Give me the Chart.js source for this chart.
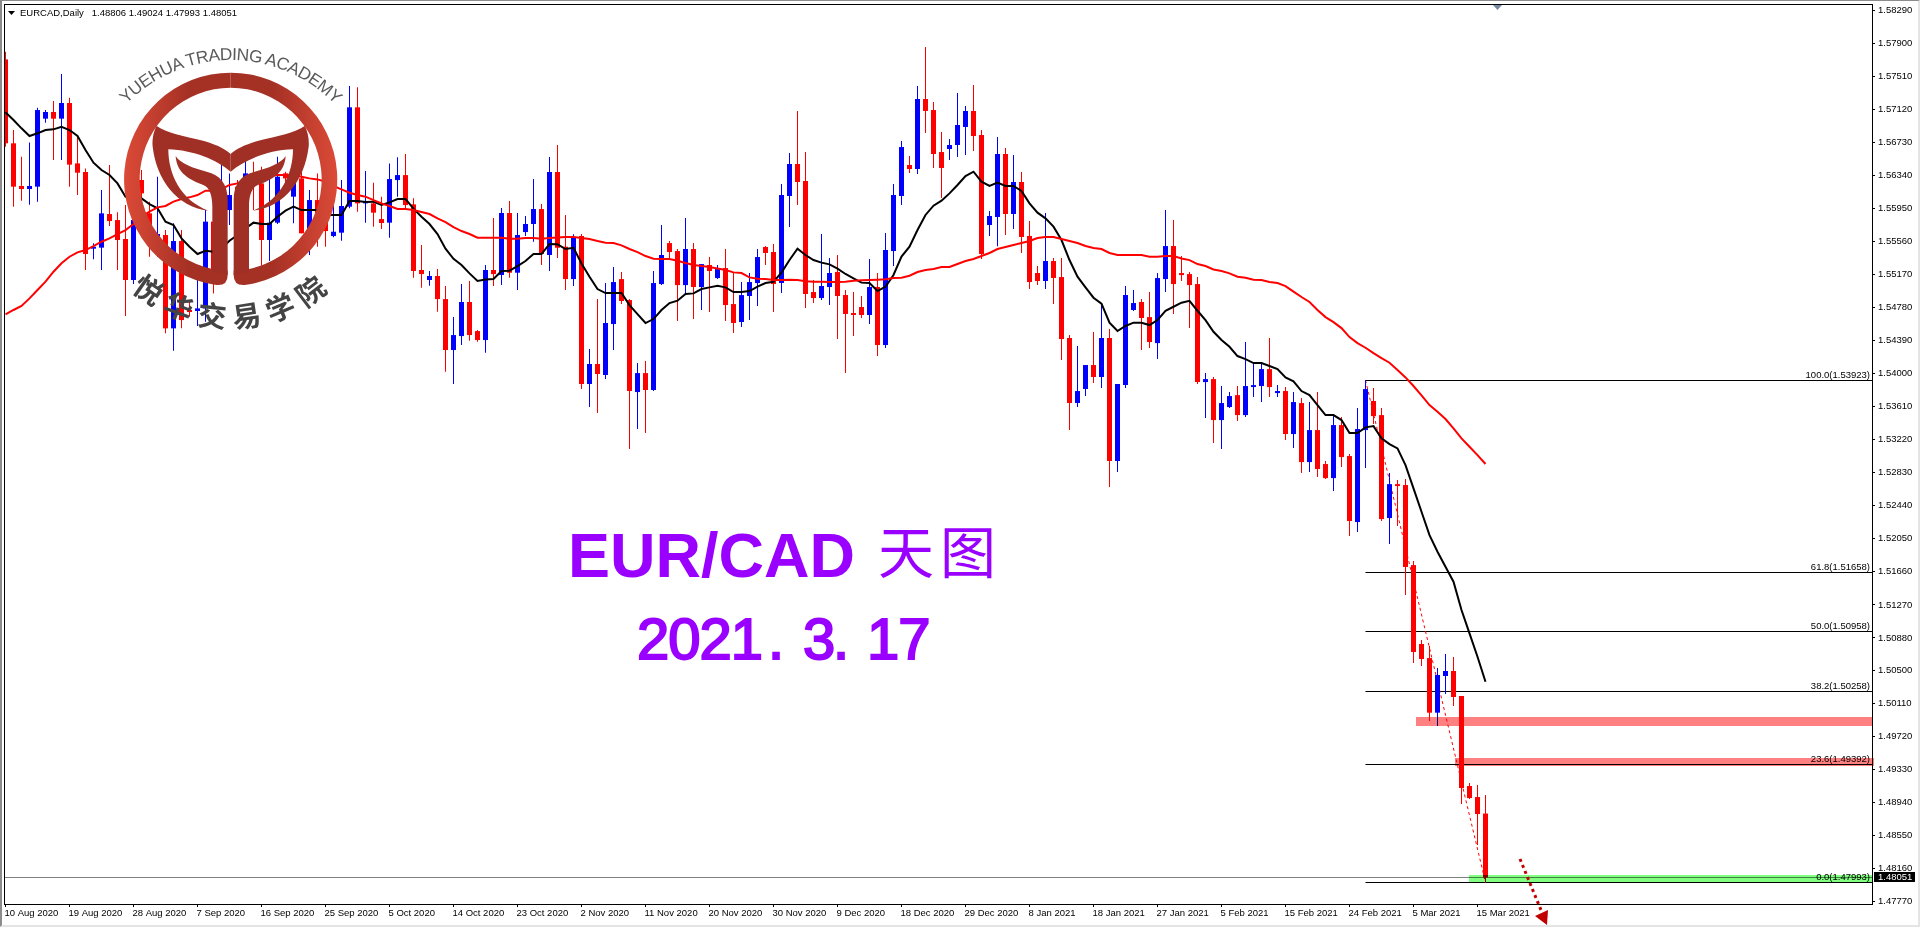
<!DOCTYPE html>
<html>
<head>
<meta charset="utf-8">
<title>EURCAD Daily</title>
<script src="https://cdn.jsdelivr.net/npm/chart.js@4"></script>
<style>
    html, body { margin: 0; padding: 0; background: #fff; overflow: hidden; }
    #wrap { position: relative; width: 1920px; height: 927px; overflow: hidden; }
    canvas { position: absolute; left: 0; top: 0; }
    #frame { position: absolute; left: 0; top: 0; right: 0; bottom: 0; box-sizing: border-box;
        border-left: 2px solid #8c8c8c; border-top: 1px solid #8c8c8c;
        border-right: 2px solid #e4e4e4; border-bottom: 2px solid #e4e4e4; }
    svg { position: absolute; left: 0; top: 0; }
    .header { position: absolute; left: 20px; top: 7px; font: 9.5px "Liberation Sans", sans-serif; color: #000; white-space: pre; }
    .title { position: absolute; color: #9900ff; white-space: pre; }
    .date { position: absolute; top: 605px; color: #9900ff; white-space: pre; font: 58px 'Liberation Sans'; letter-spacing: -1px; -webkit-text-stroke: 2px #9900ff; }
</style>
</head>
<body>
<div id="wrap">
    <canvas class="candle-chart" width="1920" height="927"></canvas>
    <div id="frame"></div>
    <div class="header">EURCAD,Daily   1.48806 1.49024 1.47993 1.48051</div>
    <div class="title" style="left:568px;top:519px;font:bold 63px 'Liberation Sans'">EUR/CAD</div>
    <div class="title" style="left:878px;top:508px;font:400 56px 'Noto Sans CJK SC';letter-spacing:6px">天图</div>
    <div class="date" style="left:637px">2021</div>
    <div class="date" style="left:768px">.</div>
    <div class="date" style="left:803px">3</div>
    <div class="date" style="left:833px">.</div>
    <div class="date" style="left:867px">17</div>
    <svg width="1920" height="927">
        <defs>
            <linearGradient id="ringFill" gradientUnits="userSpaceOnUse" x1="372" y1="0" x2="1012" y2="0">
                <stop offset="0" stop-color="#dc4a37"/>
                <stop offset="0.3" stop-color="#a53125"/>
                <stop offset="0.7" stop-color="#a53125"/>
                <stop offset="1" stop-color="#dc4a37"/>
            </linearGradient>
            <path id="leafHalf" d="M470,378 C500,400 560,410 600,420 C640,430 675,445 692,462 L692,515 C650,480 580,450 505,448 C505,520 540,600 625,632 C530,620 470,540 458,440 C456,420 460,395 470,378 Z"/>
            <path id="stemHalf" d="M683,825 L683,600 C683,550 660,525 620,515 C580,505 540,490 527,468 C530,520 570,540 610,555 C630,562 637,590 637,620 L637,815 Z"/>
            <path id="ringHalf" d="M692,218 A320,320 0 0 0 645,854.5 Q683,860 683,825 L683,812 L637,807 A275,275 0 0 1 692,263 Z"/>
            <path id="topArc" d="M340,359 A436,436 0 0 1 1044,359"/>
            <path id="bottomArc" d="M292,733 A445,445 0 0 0 1092,733"/>
        </defs>
        <!-- little menu arrow and the shift marker of the terminal -->
        <polygon points="8,11 15,11 11.5,15" fill="#000"/>
        <polygon points="1493,5 1502,5 1497.5,10" fill="#7488a0"/>

        <!-- logo, drawn in the 3x space it was measured in -->
        <g transform="scale(0.33333)">
            <use href="#ringHalf" fill="url(#ringFill)"/>
            <use href="#ringHalf" fill="url(#ringFill)" transform="translate(1384,0) scale(-1,1)"/>
            <use href="#leafHalf" fill="#a03025"/>
            <use href="#leafHalf" fill="#a03025" transform="translate(1384,0) scale(-1,1)"/>
            <use href="#stemHalf" fill="#a03025"/>
            <use href="#stemHalf" fill="#a03025" transform="translate(1384,0) scale(-1,1)"/>
            <text font-family="Liberation Sans" font-size="52" letter-spacing="-1.5" fill="#5a5a5a" text-anchor="middle">
                <textPath href="#topArc" startOffset="50%">YUEHUA TRADING ACADEMY</textPath>
            </text>
            <text font-family="Noto Sans CJK SC" font-weight="700" font-size="86" letter-spacing="26" fill="#444" text-anchor="middle">
                <textPath href="#bottomArc" startOffset="51%">悦华交易学院</textPath>
            </text>
        </g>

        <!-- dotted arrow next to the last candle -->
        <line x1="1520" y1="859" x2="1541" y2="910" stroke="#c00000" stroke-width="3" stroke-dasharray="3 3.5"/>
        <polygon points="1535,916 1548,910 1547,925" fill="#c00000"/>
    </svg>
</div>

<script>
// Candles, oldest first
const opens = [
    1.57711, 1.56720, 1.56216, 1.56180, 1.56208, 1.57011, 1.57090, 1.57011, 1.57196, 1.56483,
    1.56381, 1.55476, 1.55488, 1.55885, 1.55814, 1.55590, 1.55106, 1.56287, 1.55893, 1.55617,
    1.55637, 1.54535, 1.55566, 1.54752, 1.54740, 1.54771, 1.55795, 1.55421, 1.55932, 1.56208,
    1.56011, 1.56365, 1.56247, 1.55578, 1.55783, 1.56365, 1.56090, 1.56306, 1.55676, 1.56050,
    1.55893, 1.55625, 1.55665, 1.55972, 1.57145, 1.56011, 1.56011, 1.55826, 1.55783, 1.56286,
    1.56345, 1.55999, 1.55224, 1.55106, 1.55153, 1.54881, 1.54279, 1.54444, 1.54846, 1.54503,
    1.54397, 1.55224, 1.55165, 1.55897, 1.55192, 1.55672, 1.55767, 1.55944, 1.55401, 1.56381,
    1.55499, 1.55117, 1.55625, 1.53878, 1.54114, 1.53984, 1.54586, 1.55117, 1.54869, 1.53783,
    1.54007, 1.53807, 1.55058, 1.55542, 1.55448, 1.55046, 1.55472, 1.55023, 1.55283, 1.55129,
    1.55247, 1.54822, 1.54610, 1.54917, 1.55070, 1.55496, 1.55437, 1.55071, 1.56098, 1.56476,
    1.56275, 1.54964, 1.54893, 1.55023, 1.55200, 1.54929, 1.54716, 1.54787, 1.54693, 1.55023,
    1.54338, 1.55448, 1.56098, 1.56464, 1.56417, 1.57243, 1.57113, 1.56617, 1.56653, 1.56700,
    1.56913, 1.57102, 1.56818, 1.55755, 1.55850, 1.56594, 1.55885, 1.56263, 1.55626, 1.55189,
    1.55094, 1.55330, 1.55141, 1.54421, 1.53654, 1.53819, 1.54102, 1.53961, 1.54421, 1.52969,
    1.53866, 1.54752, 1.54846, 1.54668, 1.54361, 1.55117, 1.55507, 1.55188, 1.55176, 1.55058,
    1.53901, 1.53936, 1.53452, 1.53606, 1.53747, 1.53511, 1.53842, 1.53854, 1.54054, 1.53771,
    1.53795, 1.53287, 1.53653, 1.52956, 1.53334, 1.52933, 1.52767, 1.53393, 1.53027, 1.52248,
    1.53334, 1.53677, 1.53511, 1.52295, 1.52696, 1.52685, 1.51740, 1.50808, 1.50642, 1.49997,
    1.50430, 1.50489, 1.50194, 1.49131, 1.49001, 1.48806
];
const highs = [
    1.57802, 1.56877, 1.56562, 1.56731, 1.57141, 1.57113, 1.57219, 1.57538, 1.57259, 1.56798,
    1.56424, 1.55539, 1.56168, 1.56464, 1.55905, 1.55991, 1.56444, 1.56405, 1.56031, 1.56326,
    1.55696, 1.55775, 1.55696, 1.54870, 1.55106, 1.55932, 1.55893, 1.56483, 1.56365, 1.56287,
    1.56523, 1.56503, 1.56444, 1.56365, 1.56562, 1.56385, 1.56483, 1.56405, 1.56168, 1.56365,
    1.56090, 1.56287, 1.56287, 1.57397, 1.57381, 1.56393, 1.56255, 1.56090, 1.56483, 1.56554,
    1.56593, 1.56070, 1.55519, 1.55212, 1.55235, 1.55035, 1.54669, 1.55058, 1.55094, 1.54515,
    1.55283, 1.55838, 1.55956, 1.56038, 1.55897, 1.55861, 1.56298, 1.56003, 1.56558, 1.56700,
    1.55873, 1.55645, 1.55649, 1.54291, 1.54881, 1.55070, 1.55259, 1.55200, 1.54881, 1.54126,
    1.54149, 1.55212, 1.55755, 1.55566, 1.55472, 1.55838, 1.55542, 1.55294, 1.55377, 1.55283,
    1.55472, 1.55200, 1.55082, 1.55188, 1.55472, 1.55507, 1.55531, 1.56240, 1.56606, 1.57102,
    1.56617, 1.55106, 1.55649, 1.55366, 1.55401, 1.54988, 1.54964, 1.54917, 1.55354, 1.55189,
    1.55661, 1.56240, 1.56747, 1.56570, 1.57397, 1.57857, 1.57208, 1.56854, 1.56771, 1.57314,
    1.57161, 1.57409, 1.56877, 1.55921, 1.56795, 1.56665, 1.56582, 1.56381, 1.55803, 1.55271,
    1.55897, 1.55366, 1.55366, 1.54457, 1.54327, 1.54102, 1.54492, 1.54811, 1.54527, 1.53878,
    1.55035, 1.54988, 1.54881, 1.54964, 1.55188, 1.55932, 1.55814, 1.55389, 1.55200, 1.55141,
    1.54007, 1.53960, 1.53854, 1.53783, 1.53854, 1.54373, 1.54125, 1.54125, 1.54420, 1.53865,
    1.53842, 1.53783, 1.53712, 1.53665, 1.53783, 1.52968, 1.53511, 1.53488, 1.53051, 1.53594,
    1.53923, 1.53830, 1.53594, 1.52826, 1.52744, 1.52756, 1.51788, 1.50855, 1.50784, 1.50524,
    1.50690, 1.50654, 1.50194, 1.49166, 1.49143, 1.49024
];
const lows = [
    1.56680, 1.55972, 1.56043, 1.55995, 1.56031, 1.56964, 1.56523, 1.56523, 1.56208, 1.56109,
    1.55224, 1.55350, 1.55224, 1.55743, 1.55224, 1.54681, 1.55059, 1.56070, 1.55381, 1.55381,
    1.54476, 1.54271, 1.54535, 1.54673, 1.54563, 1.54614, 1.54948, 1.55303, 1.55755, 1.55972,
    1.55893, 1.55932, 1.55275, 1.55330, 1.55767, 1.56208, 1.55775, 1.55657, 1.55401, 1.55499,
    1.55499, 1.55610, 1.55570, 1.55952, 1.55913, 1.55783, 1.55736, 1.55708, 1.55605, 1.56090,
    1.55952, 1.55133, 1.55015, 1.55039, 1.54732, 1.54023, 1.53878, 1.54338, 1.54389, 1.54377,
    1.54248, 1.55035, 1.55047, 1.55133, 1.54987, 1.55625, 1.55558, 1.55283, 1.55212, 1.55365,
    1.54987, 1.55035, 1.53818, 1.53606, 1.53535, 1.53937, 1.54279, 1.54822, 1.53110, 1.53346,
    1.53299, 1.53795, 1.55046, 1.55350, 1.54621, 1.54928, 1.54645, 1.54751, 1.54728, 1.55117,
    1.54621, 1.54480, 1.54551, 1.54633, 1.54799, 1.55283, 1.54728, 1.54953, 1.55732, 1.55992,
    1.54775, 1.54834, 1.54870, 1.54811, 1.54409, 1.54008, 1.54445, 1.54657, 1.54586, 1.54209,
    1.54303, 1.55271, 1.55992, 1.56369, 1.56358, 1.56842, 1.56429, 1.56074, 1.56523, 1.56558,
    1.56582, 1.56629, 1.55354, 1.55626, 1.55504, 1.55637, 1.55708, 1.55425, 1.55000, 1.55047,
    1.55000, 1.54823, 1.54161, 1.53335, 1.53606, 1.53736, 1.53890, 1.53831, 1.52662, 1.52839,
    1.53831, 1.54740, 1.54279, 1.54302, 1.54172, 1.54964, 1.54704, 1.55093, 1.54539, 1.53877,
    1.53476, 1.53181, 1.53110, 1.53594, 1.53440, 1.53488, 1.53724, 1.53665, 1.53724, 1.53724,
    1.53216, 1.53122, 1.52826, 1.52838, 1.52779, 1.52755, 1.52614, 1.52897, 1.52082, 1.52130,
    1.52885, 1.53405, 1.52260, 1.51988, 1.52201, 1.51386, 1.50583, 1.50548, 1.49898, 1.49839,
    1.50217, 1.50076, 1.48918, 1.48977, 1.48434, 1.47993
];
const closes = [
    1.56720, 1.56208, 1.56180, 1.56216, 1.57113, 1.57090, 1.57011, 1.57196, 1.56468, 1.56373,
    1.55413, 1.55499, 1.55893, 1.55802, 1.55578, 1.55106, 1.55814, 1.56129, 1.55578, 1.55649,
    1.54535, 1.55566, 1.54633, 1.54728, 1.54771, 1.55795, 1.55066, 1.56208, 1.56109, 1.56090,
    1.56365, 1.56306, 1.55578, 1.55783, 1.56326, 1.56306, 1.56405, 1.55657, 1.56050, 1.55716,
    1.55684, 1.55676, 1.55980, 1.57145, 1.56011, 1.56031, 1.55901, 1.55779, 1.56298, 1.56345,
    1.55991, 1.55212, 1.55176, 1.55153, 1.54881, 1.54279, 1.54456, 1.54846, 1.54456, 1.54397,
    1.55224, 1.55176, 1.55897, 1.55192, 1.55637, 1.55767, 1.55944, 1.55413, 1.56381, 1.55487,
    1.55117, 1.55602, 1.53878, 1.54114, 1.53996, 1.54598, 1.55082, 1.54858, 1.53795, 1.54007,
    1.53807, 1.55070, 1.55401, 1.55436, 1.55046, 1.55472, 1.55023, 1.55294, 1.55212, 1.55235,
    1.54810, 1.54598, 1.54928, 1.55082, 1.55377, 1.55425, 1.55059, 1.56110, 1.56476, 1.56263,
    1.54941, 1.54893, 1.55035, 1.55189, 1.54917, 1.54705, 1.54693, 1.54693, 1.55023, 1.54338,
    1.55460, 1.56110, 1.56676, 1.56417, 1.57243, 1.57102, 1.56594, 1.56429, 1.56700, 1.56936,
    1.57102, 1.56806, 1.55413, 1.55862, 1.56594, 1.55885, 1.56263, 1.55614, 1.55082, 1.55094,
    1.55330, 1.55130, 1.54409, 1.53654, 1.53795, 1.54102, 1.53961, 1.54421, 1.52969, 1.53878,
    1.54929, 1.54834, 1.54657, 1.54373, 1.55129, 1.55507, 1.55058, 1.55164, 1.55046, 1.53901,
    1.53936, 1.53452, 1.53653, 1.53736, 1.53511, 1.53854, 1.53865, 1.54054, 1.53842, 1.53795,
    1.53287, 1.53665, 1.52956, 1.53334, 1.52874, 1.52767, 1.53393, 1.53015, 1.52260, 1.53346,
    1.53818, 1.53499, 1.52283, 1.52696, 1.52673, 1.51717, 1.50713, 1.50631, 1.49997, 1.50442,
    1.50489, 1.50182, 1.49107, 1.48989, 1.48800, 1.48051
];

// Moving averages, one value per candle
const blackMA = [
    1.57086, 1.56995, 1.56897, 1.56806, 1.56838, 1.56877, 1.56885, 1.56916, 1.56877, 1.56806,
    1.56641, 1.56491, 1.56405, 1.56346, 1.56247, 1.56090, 1.56050, 1.56070, 1.56003, 1.55952,
    1.55795, 1.55755, 1.55598, 1.55499, 1.55413, 1.55452, 1.55440, 1.55480, 1.55570, 1.55637,
    1.55716, 1.55783, 1.55767, 1.55767, 1.55854, 1.55924, 1.55972, 1.55932, 1.55932, 1.55932,
    1.55873, 1.55873, 1.55873, 1.56039, 1.56039, 1.56027, 1.56031, 1.55991, 1.56023, 1.56062,
    1.56062, 1.55948, 1.55853, 1.55767, 1.55649, 1.55476, 1.55357, 1.55283, 1.55184, 1.55094,
    1.55113, 1.55117, 1.55212, 1.55216, 1.55271, 1.55330, 1.55413, 1.55413, 1.55531, 1.55527,
    1.55472, 1.55487, 1.55302, 1.55145, 1.54999, 1.54952, 1.54952, 1.54952, 1.54810, 1.54704,
    1.54598, 1.54645, 1.54751, 1.54834, 1.54862, 1.54940, 1.54948, 1.54999, 1.55019, 1.55039,
    1.55019, 1.54964, 1.54964, 1.54976, 1.55027, 1.55070, 1.55086, 1.55193, 1.55342, 1.55476,
    1.55401, 1.55342, 1.55311, 1.55291, 1.55240, 1.55177, 1.55126, 1.55075, 1.55071, 1.54976,
    1.55027, 1.55165, 1.55382, 1.55500, 1.55696, 1.55874, 1.55984, 1.56043, 1.56129, 1.56228,
    1.56334, 1.56385, 1.56267, 1.56216, 1.56255, 1.56216, 1.56216, 1.56157, 1.56011, 1.55901,
    1.55834, 1.55736, 1.55578, 1.55342, 1.55145, 1.55019, 1.54897, 1.54827, 1.54602, 1.54504,
    1.54563, 1.54602, 1.54601, 1.54574, 1.54633, 1.54743, 1.54790, 1.54838, 1.54861, 1.54743,
    1.54633, 1.54495, 1.54397, 1.54318, 1.54208, 1.54172, 1.54125, 1.54125, 1.54090, 1.54054,
    1.53956, 1.53909, 1.53795, 1.53747, 1.53629, 1.53511, 1.53511, 1.53452, 1.53299, 1.53299,
    1.53366, 1.53381, 1.53236, 1.53169, 1.53118, 1.52921, 1.52645, 1.52370, 1.52094, 1.51897,
    1.51720, 1.51544, 1.51209, 1.50934, 1.50658, 1.50363
];
const redMA = [
    1.54700, 1.54752, 1.54799, 1.54889, 1.54988, 1.55086, 1.55204, 1.55303, 1.55381, 1.55432,
    1.55460, 1.55507, 1.55558, 1.55598, 1.55649, 1.55696, 1.55767, 1.55854, 1.55913, 1.55964,
    1.55980, 1.56031, 1.56062, 1.56082, 1.56109, 1.56161, 1.56161, 1.56176, 1.56228, 1.56247,
    1.56298, 1.56306, 1.56326, 1.56334, 1.56346, 1.56346, 1.56346, 1.56326, 1.56306, 1.56294,
    1.56267, 1.56216, 1.56176, 1.56137, 1.56109, 1.56090, 1.56050, 1.56011, 1.55980, 1.55944,
    1.55944, 1.55932, 1.55909, 1.55885, 1.55834, 1.55790, 1.55731, 1.55684, 1.55649, 1.55605,
    1.55605, 1.55605, 1.55605, 1.55594, 1.55594, 1.55601, 1.55601, 1.55594, 1.55601, 1.55609,
    1.55613, 1.55613, 1.55601, 1.55590, 1.55566, 1.55546, 1.55542, 1.55515, 1.55472, 1.55436,
    1.55389, 1.55357, 1.55354, 1.55354, 1.55334, 1.55306, 1.55283, 1.55271, 1.55259, 1.55243,
    1.55224, 1.55196, 1.55188, 1.55137, 1.55121, 1.55117, 1.55106, 1.55106, 1.55110, 1.55106,
    1.55090, 1.55086, 1.55086, 1.55082, 1.55082, 1.55086, 1.55098, 1.55102, 1.55106, 1.55110,
    1.55114, 1.55130, 1.55134, 1.55157, 1.55200, 1.55224, 1.55236, 1.55260, 1.55260, 1.55295,
    1.55330, 1.55354, 1.55389, 1.55425, 1.55472, 1.55496, 1.55519, 1.55543, 1.55567, 1.55602,
    1.55614, 1.55614, 1.55590, 1.55567, 1.55543, 1.55507, 1.55484, 1.55472, 1.55425, 1.55401,
    1.55401, 1.55401, 1.55400, 1.55381, 1.55381, 1.55389, 1.55389, 1.55361, 1.55341, 1.55294,
    1.55271, 1.55231, 1.55212, 1.55184, 1.55145, 1.55133, 1.55109, 1.55105, 1.55082, 1.55070,
    1.55034, 1.54968, 1.54905, 1.54846, 1.54751, 1.54668, 1.54609, 1.54538, 1.54432, 1.54361,
    1.54306, 1.54243, 1.54184, 1.54129, 1.54043, 1.53956, 1.53854, 1.53743, 1.53629, 1.53551,
    1.53464, 1.53354, 1.53236, 1.53137, 1.53039, 1.52933
];

// Axis labels
const xTickLabels = [
    '10 Aug 2020', '19 Aug 2020', '28 Aug 2020', '7 Sep 2020', '16 Sep 2020', '25 Sep 2020',
    '5 Oct 2020', '14 Oct 2020', '23 Oct 2020', '2 Nov 2020', '11 Nov 2020', '20 Nov 2020',
    '30 Nov 2020', '9 Dec 2020', '18 Dec 2020', '29 Dec 2020', '8 Jan 2021', '18 Jan 2021',
    '27 Jan 2021', '5 Feb 2021', '15 Feb 2021', '24 Feb 2021', '5 Mar 2021', '15 Mar 2021'
];
const barsPerLabel = 8;
const yTicks = [
    1.58290, 1.57900, 1.57510, 1.57120, 1.56730, 1.56340, 1.55950, 1.55560, 1.55170, 1.54780,
    1.54390, 1.54000, 1.53610, 1.53220, 1.52830, 1.52440, 1.52050, 1.51660, 1.51270, 1.50880,
    1.50500, 1.50110, 1.49720, 1.49330, 1.48940, 1.48550, 1.48160, 1.47770
];

// Fibonacci tool, drawn from bar 170 rightwards
const fibStartBar = 170;
const fibEndBar = 185;
const fibLevels = [1.53923, 1.51658, 1.50958, 1.50258, 1.49392, 1.47993];
const fibLabels = ['100.0(1.53923)', '61.8(1.51658)', '50.0(1.50958)', '38.2(1.50258)', '23.6(1.49392)', '0.0(1.47993)'];

// Highlighted price zones: [low, high, first bar, last bar]
const zoneLows = [1.49839, 1.49367, 1.47997];
const zoneHighs = [1.49946, 1.49462, 1.48080];
const zoneStarts = [176.3, 181.2, 182.9];
const zoneEnds = [233.3125, 233.6, 233.3125];
const zoneColors = ['#ff8080', '#ff8080', '#80ff80'];

const bidPrice = 1.48051;

const FONT = '"Liberation Sans", sans-serif';
const barIndexes = opens.map((_, i) => i);

function candleColor(ctx) {
    const i = ctx.dataIndex;
    return closes[i] >= opens[i] ? '#0000ff' : '#ff0000';
}

// Long tick labels must not push the plot area in
function fixScaleSize(scale) {
    scale.paddingLeft = 0;
    scale.paddingRight = 0;
    scale.paddingTop = 0;
    scale.paddingBottom = 0;
    if (scale.axis === 'x') {
        scale.height = 23;
    } else {
        scale.width = 48;
    }
}

// Things MT4 draws that are not series: frame, levels, zones, price box
const chartExtras = {
    id: 'chartExtras',
    beforeDatasetsDraw(chart) {
        const { ctx, chartArea, scales } = chart;
        ctx.save();
        ctx.strokeStyle = '#000';
        ctx.lineWidth = 1;
        const fibX = Math.round(scales.x.getPixelForValue(fibStartBar)) - 0.5;
        fibLevels.forEach(level => {
            const y = Math.round(scales.y.getPixelForValue(level)) + 0.5;
            ctx.beginPath();
            ctx.moveTo(fibX, y);
            ctx.lineTo(chartArea.right, y);
            ctx.stroke();
        });
        ctx.strokeStyle = '#808080';
        const bidY = Math.round(scales.y.getPixelForValue(bidPrice)) + 0.5;
        ctx.beginPath();
        ctx.moveTo(chartArea.left, bidY);
        ctx.lineTo(chartArea.right, bidY);
        ctx.stroke();
        ctx.restore();
    },
    afterDatasetsDraw(chart) {
        const { ctx, chartArea, scales } = chart;
        ctx.save();
        // zones sit on top of everything and tint it
        ctx.globalCompositeOperation = 'multiply';
        zoneLows.forEach((low, i) => {
            const x0 = scales.x.getPixelForValue(zoneStarts[i]);
            const x1 = scales.x.getPixelForValue(zoneEnds[i]);
            const y0 = scales.y.getPixelForValue(zoneHighs[i]);
            const y1 = scales.y.getPixelForValue(low);
            ctx.fillStyle = zoneColors[i];
            ctx.fillRect(Math.round(x0), Math.round(y0), Math.round(x1 - x0), Math.round(y1 - y0));
        });
        ctx.globalCompositeOperation = 'source-over';

        ctx.font = '9.5px ' + FONT;
        ctx.fillStyle = '#000';
        ctx.textAlign = 'right';
        ctx.textBaseline = 'bottom';
        fibLevels.forEach((level, i) => {
            ctx.fillText(fibLabels[i], chartArea.right - 2, Math.round(scales.y.getPixelForValue(level)));
        });

        ctx.strokeStyle = '#000';
        ctx.lineWidth = 1;
        ctx.strokeRect(chartArea.left + 0.5, chartArea.top + 0.5, chartArea.right - chartArea.left, chartArea.bottom - chartArea.top);

        const boxY = Math.round(scales.y.getPixelForValue(bidPrice));
        ctx.fillStyle = '#000';
        ctx.fillRect(chartArea.right + 2, boxY - 5, 41, 10);
        ctx.fillStyle = '#fff';
        ctx.textAlign = 'left';
        ctx.textBaseline = 'middle';
        ctx.fillText(bidPrice.toFixed(5), chartArea.right + 6, boxY + 0.5);
        ctx.restore();
    }
};

const candleChart = new Chart(document.querySelector('.candle-chart').getContext('2d'), {
    data: {
        datasets: [
            {
                type: 'line',
                label: 'Red MA',
                order: 1,
                data: barIndexes.map(i => ({ x: i, y: redMA[i] })),
                borderColor: '#ff0000',
                borderWidth: 2,
                pointRadius: 0
            },
            {
                type: 'line',
                label: 'Black MA',
                order: 2,
                data: barIndexes.map(i => ({ x: i, y: blackMA[i] })),
                borderColor: '#000000',
                borderWidth: 2,
                pointRadius: 0
            },
            {
                type: 'bar',
                label: 'Bodies',
                order: 3,
                grouped: false,
                barThickness: 5,
                inflateAmount: 0,
                data: barIndexes.map(i => ({ x: i, y: [opens[i], closes[i]] })),
                backgroundColor: candleColor
            },
            {
                type: 'bar',
                label: 'Wicks',
                order: 4,
                grouped: false,
                barThickness: 1,
                inflateAmount: 0,
                data: barIndexes.map(i => ({ x: i, y: [lows[i], highs[i]] })),
                backgroundColor: candleColor
            },
            {
                // Fibo trend line, stays behind the candles
                type: 'line',
                label: 'Fibo trend',
                order: 5,
                data: [
                    { x: fibStartBar, y: fibLevels[0] },
                    { x: fibEndBar, y: fibLevels[fibLevels.length - 1] }
                ],
                borderColor: '#ff0000',
                borderWidth: 1,
                borderDash: [3, 3],
                pointRadius: 0
            }
        ]
    },
    options: {
        responsive: false,
        animation: false,
        events: [],
        layout: { padding: { left: 4, top: 4, right: 0, bottom: 0 } },
        plugins: { legend: { display: false }, tooltip: { enabled: false } },
        scales: {
            x: {
                type: 'linear',
                min: -0.1875,
                max: 233.3125,
                offset: false,
                afterFit: fixScaleSize,
                afterBuildTicks(scale) {
                    scale.ticks = xTickLabels.map((_, i) => ({ value: i * barsPerLabel }));
                },
                border: { display: false },
                grid: { offset: false, drawOnChartArea: false, drawTicks: true, tickLength: 3, tickColor: '#000', tickWidth: 1 },
                ticks: {
                    autoSkip: false,
                    maxRotation: 0,
                    align: 'start',
                    labelOffset: -1,
                    padding: 1,
                    color: '#000',
                    font: { family: FONT, size: 9.5 },
                    callback: value => xTickLabels[value / barsPerLabel]
                }
            },
            y: {
                type: 'linear',
                position: 'right',
                min: 1.47738,
                max: 1.58365,
                afterFit: fixScaleSize,
                afterBuildTicks(scale) {
                    scale.ticks = yTicks.map(v => ({ value: v }));
                },
                border: { display: false },
                grid: { drawOnChartArea: false, drawTicks: true, tickLength: 3, tickColor: '#000', tickWidth: 1 },
                ticks: {
                    autoSkip: false,
                    padding: 3,
                    color: '#000',
                    font: { family: FONT, size: 9.5 },
                    callback: value => value.toFixed(5)
                }
            }
        }
    },
    plugins: [chartExtras]
});
</script>
</body>
</html>
